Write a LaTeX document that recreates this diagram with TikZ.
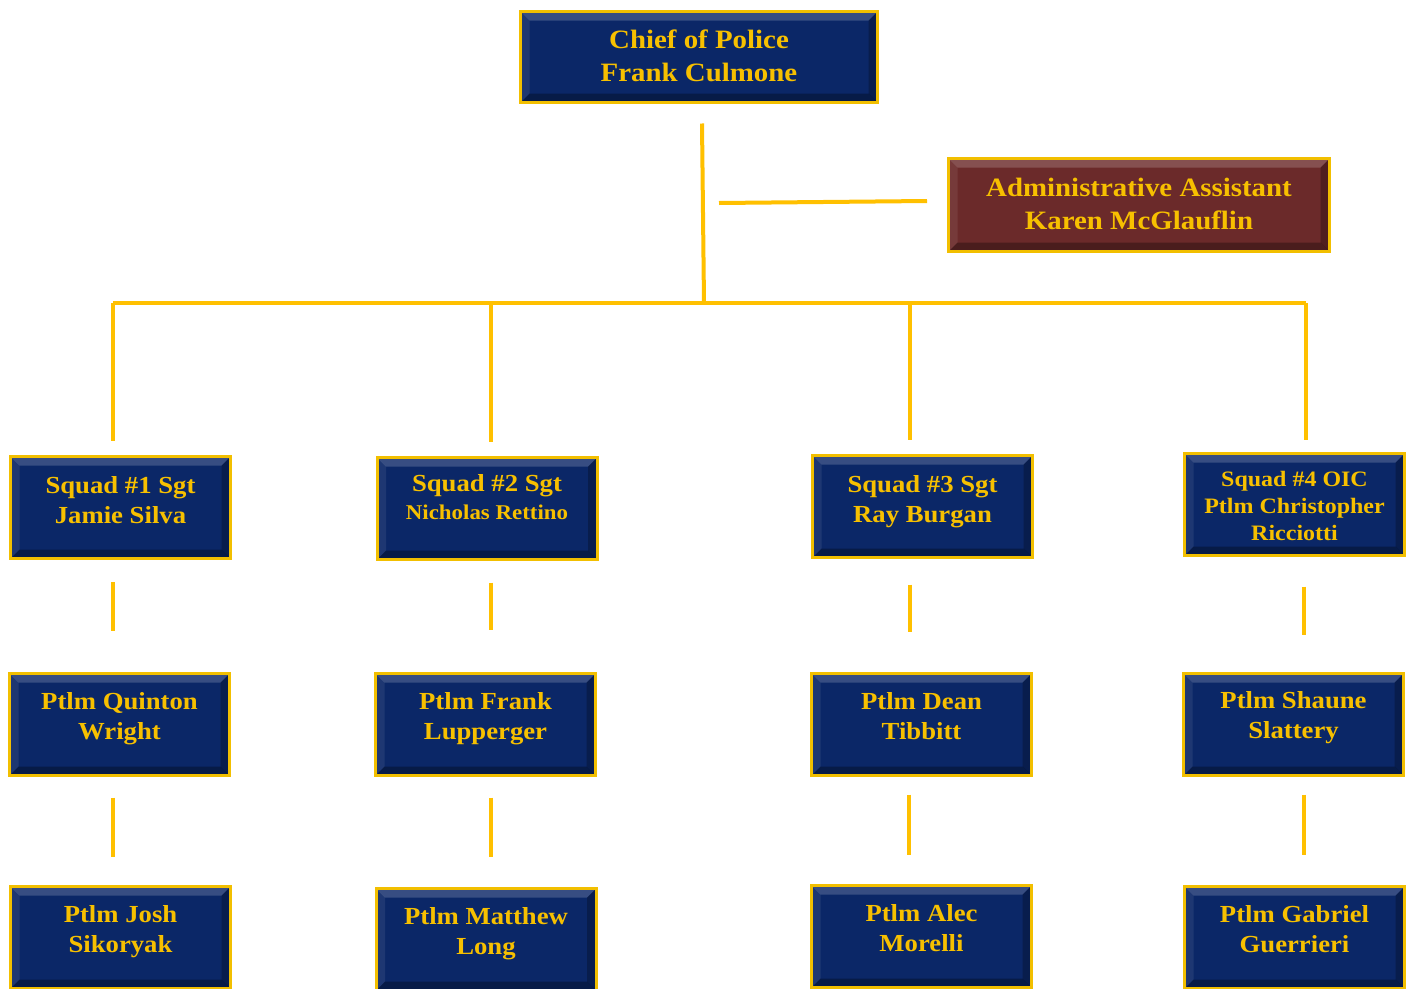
\documentclass[tikz,border=0pt]{standalone}
\usepackage{fontspec}
\setmainfont{Liberation Serif}[FakeStretch=1.09]
\usetikzlibrary{calc}
\definecolor{navy}{HTML}{0B2767}
\definecolor{maroon}{HTML}{6B2A2A}
\definecolor{gold}{HTML}{F2BF00}
\definecolor{txtgold}{HTML}{F7C000}
\definecolor{linegold}{HTML}{FFC000}
\tikzset{
  bevel/.style={path picture={
    \fill[white,opacity=0.18] (path picture bounding box.north west) -- (path picture bounding box.north east)
      -- ([shift={(-9pt,-9pt)}]path picture bounding box.north east) -- ([shift={(9pt,-9pt)}]path picture bounding box.north west) -- cycle;
    \fill[white,opacity=0.08] (path picture bounding box.north west) -- (path picture bounding box.south west)
      -- ([shift={(9pt,9pt)}]path picture bounding box.south west) -- ([shift={(9pt,-9pt)}]path picture bounding box.north west) -- cycle;
    \fill[black,opacity=0.30] (path picture bounding box.south west) -- (path picture bounding box.south east)
      -- ([shift={(-9pt,9pt)}]path picture bounding box.south east) -- ([shift={(9pt,9pt)}]path picture bounding box.south west) -- cycle;
    \fill[black,opacity=0.25] (path picture bounding box.north east) -- (path picture bounding box.south east)
      -- ([shift={(-9pt,9pt)}]path picture bounding box.south east) -- ([shift={(-9pt,-9pt)}]path picture bounding box.north east) -- cycle;
    \draw[black!70,line width=1.2pt] (path picture bounding box.north east) -- (path picture bounding box.south east) -- (path picture bounding box.south west);
  }},
  boxbase/.style={draw=gold, line width=3pt, bevel, inner sep=0pt, text=txtgold, font=\bfseries},
  navybox/.style={boxbase, fill=navy, minimum width=220pt, minimum height=102pt},
  conn/.style={draw=linegold, line width=4pt},
  tx/.style={text=txtgold, font=\bfseries, align=center}
}
\newcommand{\obox}[6]{%
  \node[navybox,#6, label={[tx,font=\bfseries#5,yshift=#4]center:{\strut#3\strut}}] (#1) at (#2) {};}
\begin{document}
\begin{tikzpicture}[x=1pt,y=-1pt]
\useasboundingbox[fill=white] (0,0) rectangle (1411,988);
% top boxes
\node[boxbase, fill=navy, minimum width=357pt, minimum height=91pt,
  label={[tx,font=\bfseries\fontsize{26.5}{33}\selectfont,yshift=-1pt]center:{\strut Chief of Police\\Frank Culmone\strut}}] (chief) at (699,57) {};
\node[boxbase, fill=maroon, minimum width=381pt, minimum height=93pt,
  label={[tx,font=\bfseries\fontsize{26.5}{33}\selectfont,yshift=-1pt]center:{\strut Administrative Assistant\\Karen McGlauflin\strut}}] (admin) at (1139,205) {};
% row 1
\obox{s1}{120.5,507.5}{Squad \#1 Sgt\\Jamie Silva}{5.5pt}{\fontsize{24.5}{30}\selectfont}{}
\obox{s2}{487,508.5}{Squad \#2 Sgt\\{\fontsize{21}{28}\selectfont Nicholas Rettino}}{8.5pt}{\fontsize{24.5}{28}\selectfont}{}
\obox{s3}{922.5,506.5}{Squad \#3 Sgt\\Ray Burgan}{5.5pt}{\fontsize{24.5}{30}\selectfont}{}
\obox{s4}{1294.5,504.5}{Squad \#4 OIC\\Ptlm Christopher\\Ricciotti}{-4pt}{\fontsize{22}{27}\selectfont}{}
% row 2
\obox{a1}{119.5,724.5}{Ptlm Quinton\\Wright}{6pt}{\fontsize{24.5}{30}\selectfont}{}
\obox{a2}{485.5,724.5}{Ptlm Frank\\Lupperger}{6pt}{\fontsize{24.5}{30}\selectfont}{}
\obox{a3}{921.5,724.5}{Ptlm Dean\\Tibbitt}{6pt}{\fontsize{24.5}{30}\selectfont}{}
\obox{a4}{1293.5,724.5}{Ptlm Shaune\\Slattery}{7.5pt}{\fontsize{24.5}{30}\selectfont}{}
% row 3
\obox{b1}{120.5,937.5}{Ptlm Josh\\Sikoryak}{6pt}{\fontsize{24.5}{30}\selectfont}{}
\obox{b2}{486,939.5}{Ptlm Matthew\\Long}{6pt}{\fontsize{24.5}{30}\selectfont}{}
\obox{b3}{921.5,936.5}{Ptlm Alec\\Morelli}{6pt}{\fontsize{24.5}{30}\selectfont}{}
\obox{b4}{1294.5,937.5}{Ptlm Gabriel\\Guerrieri}{6pt}{\fontsize{24.5}{30}\selectfont}{}
% connectors
\coordinate (bus) at (704,303);
\coordinate (adm) at (719,203);
\coordinate (d1) at (113,303);
\coordinate (d2) at (491,303);
\coordinate (d3) at (910,303);
\coordinate (d4) at (1306,303);
\draw[conn] ([xshift=3pt,yshift=-19.5pt]chief.south) -- (bus);
\draw[conn] (adm) -- ([xshift=-20pt,yshift=4pt]admin.west);
\draw[conn] (d1) -- (d4);
\draw[conn, shorten >=14pt] (d1) -- (d1 |- s1.north);
\draw[conn, shorten >=14pt] (d2) -- (d2 |- s2.north);
\draw[conn, shorten >=14pt] (d3) -- (d3 |- s3.north);
\draw[conn, shorten >=12pt] (d4) -- (d4 |- s4.north);
\draw[conn, shorten <=22pt, shorten >=41.5pt] (d1 |- s1.south) -- (d1 |- a1.north);
\draw[conn, shorten <=21.5pt, shorten >=42.5pt] (d2 |- s2.south) -- (d2 |- a2.north);
\draw[conn, shorten <=25.5pt, shorten >=40.5pt] (d3 |- s3.south) -- (d3 |- a3.north);
\draw[conn, shorten <=29.5pt, shorten >=37.5pt] ([xshift=-2pt]d4 |- s4.south) -- ([xshift=-2pt]d4 |- a4.north);
\draw[conn, shorten <=20.5pt, shorten >=28.5pt] (d1 |- a1.south) -- (d1 |- b1.north);
\draw[conn, shorten <=20.5pt, shorten >=30.5pt] (d2 |- a2.south) -- (d2 |- b2.north);
\draw[conn, shorten <=17.5pt, shorten >=29.5pt] ([xshift=-1pt]d3 |- a3.south) -- ([xshift=-1pt]d3 |- b3.north);
\draw[conn, shorten <=17.5pt, shorten >=30.5pt] ([xshift=-2pt]d4 |- a4.south) -- ([xshift=-2pt]d4 |- b4.north);
\end{tikzpicture}
\end{document}
